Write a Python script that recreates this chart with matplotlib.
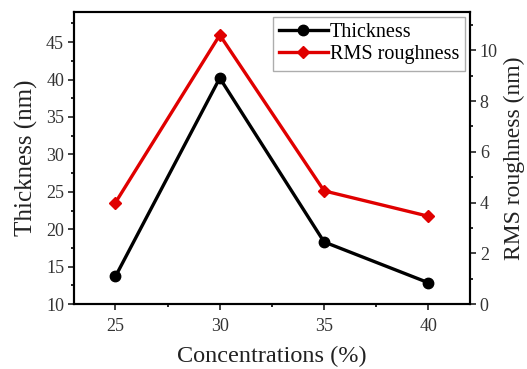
import matplotlib.pyplot as plt
from matplotlib.ticker import MultipleLocator

plt.rcParams['font.family'] = ['Liberation Serif', 'DejaVu Serif']

conc = [25, 30, 35, 40]
thickness = [13.7, 40.2, 18.3, 12.85]
rms = [4.0, 10.6, 4.46, 3.46]

fig = plt.figure(figsize=(5.27, 3.69), dpi=100)
ax = fig.add_axes([0.140, 0.176, 0.752, 0.791])
ax2 = ax.twinx()

l1, = ax.plot(conc, thickness, color='black', lw=2.4, marker='o', ms=7.5, label='Thickness')
l2, = ax2.plot(conc, rms, color='#e00000', lw=2.4, marker='D', ms=6.5, label='RMS roughness')

ax.set_xlim(23, 42)
ax.set_ylim(10, 49)
ax2.set_ylim(0, 11.5)

ax.xaxis.set_major_locator(MultipleLocator(5))
ax.xaxis.set_minor_locator(MultipleLocator(2.5))
ax.yaxis.set_major_locator(MultipleLocator(5))
ax.yaxis.set_minor_locator(MultipleLocator(2.5))
ax2.yaxis.set_major_locator(MultipleLocator(2))
ax2.yaxis.set_minor_locator(MultipleLocator(1))

for a in (ax, ax2):
    for s in a.spines.values():
        s.set_linewidth(1.5)
    a.tick_params(which='major', direction='out', length=4, width=1.3, labelsize=13, colors='#333333', pad=3)
    a.tick_params(which='minor', direction='out', length=2.5, width=1.2)
ax.tick_params(axis='x', pad=6)

ax.set_xlabel('Concentrations (%)', fontsize=17.5, labelpad=8, color='#222222')
ax.set_ylabel('Thickness (nm)', fontsize=18, labelpad=6, color='#222222')
ax2.set_ylabel('RMS roughness (nm)', fontsize=17, labelpad=4, color='#222222')

leg = ax.legend([l1, l2], ['Thickness', 'RMS roughness'], loc='upper right',
                fontsize=14.5, handlelength=2.4, borderaxespad=0.25, fancybox=False,
                labelspacing=0.15, handletextpad=0.1, borderpad=0.3)
leg.get_frame().set_edgecolor('#999999')
leg.get_frame().set_linewidth(1.0)

fig.savefig('out.png', dpi=100)
